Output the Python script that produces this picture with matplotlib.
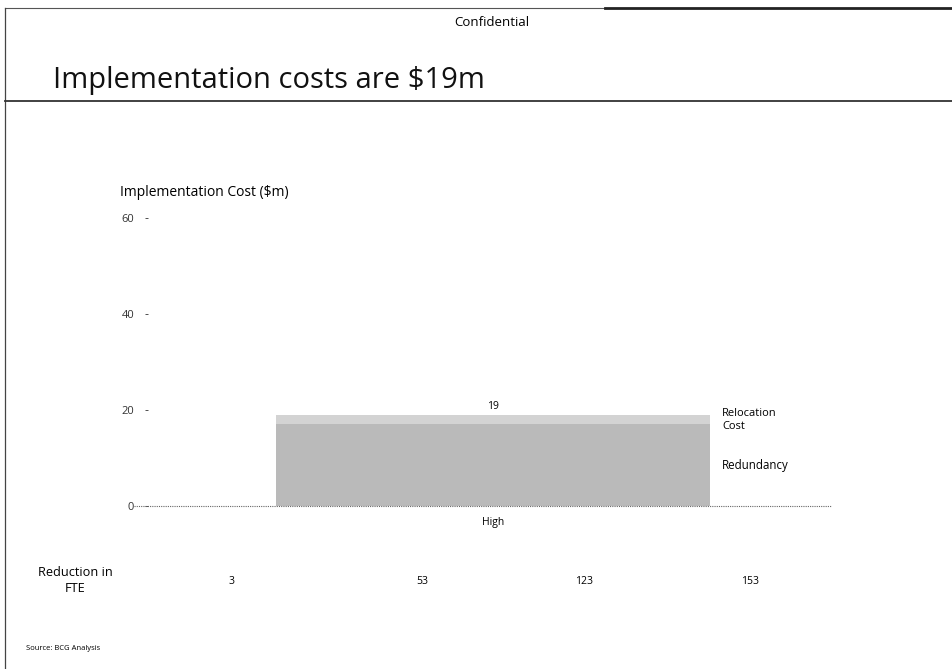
import matplotlib.pyplot as plt
from matplotlib.lines import Line2D

# ========================
# DATA
# ========================
categories = ["High"]
redundancy = [17]
relocation = [2]
total_labels = ["19"]
fte_values = ["3", "53", "123", "153"]
y_ticks = [0, 20, 40, 60]

W, H = 953, 669
FONT = "Open Sans"
plt.rcParams["font.family"] = [FONT, "DejaVu Sans"]


def fx(px):
    return px / W


def fy(py):
    return 1 - py / H


fig = plt.figure(figsize=(W / 100, H / 100), dpi=100)

# --- page frame ---
fig.add_artist(Line2D([fx(5), fx(605)], [fy(8), fy(8)], color="#555555", lw=0.8))
fig.add_artist(Line2D([fx(605), fx(953)], [fy(8), fy(8)], color="#222222", lw=2.0))
fig.add_artist(Line2D([fx(5), fx(5)], [fy(8), fy(669)], color="#444444", lw=0.9))
fig.add_artist(Line2D([fx(5), fx(953)], [fy(101), fy(101)], color="#333333", lw=1.3))

fig.text(fx(492), fy(22), "Confidential", ha="center", va="center", fontsize=9.5)
fig.text(fx(53), fy(88), "Implementation costs are $19m", ha="left", va="baseline",
         fontsize=21, color="#111111", weight="medium")

# --- chart ---
ax = fig.add_axes([fx(148), fy(506), fx(838) - fx(148), (506 - 218) / H])
x = list(range(len(categories)))
ax.bar(x, redundancy, width=0.63, color="#bababa", label="Redundancy")
ax.bar(x, relocation, width=0.63, bottom=redundancy, color="#d3d3d3", label="Relocation Cost")
for i, lab in enumerate(total_labels):
    ax.text(x[i], redundancy[i] + relocation[i] + 0.6, lab, ha="center", va="bottom", fontsize=7.5)

ax.set_xlim(-0.5, 0.5)
ax.set_ylim(0, 60)
ax.set_yticks(y_ticks)
ax.set_yticklabels([str(t) for t in y_ticks], fontsize=8)
ax.tick_params(axis="y", length=2, width=0.6, pad=8, colors="#333333")
ax.set_xticks(x)
ax.set_xticklabels(categories, fontsize=7.5)
ax.tick_params(axis="x", length=0, pad=8)
for s in ax.spines.values():
    s.set_visible(False)
ax.axhline(0, xmin=-0.02, xmax=0.99, color="#666666", lw=0.8, ls=(0, (1, 1)), clip_on=False)
ax.patch.set_alpha(0)

fig.text(fx(120), fy(193), "Implementation Cost ($m)", ha="left", va="center", fontsize=10)

# legend labels at right of bar
fig.text(fx(722), fy(420), "Relocation\nCost", ha="left", va="center", fontsize=8, linespacing=1.3)
fig.text(fx(722), fy(465), "Redundancy", ha="left", va="center", fontsize=8.3)

# --- FTE row ---
fig.text(fx(75), fy(580), "Reduction in\nFTE", ha="center", va="center", fontsize=9.2, linespacing=1.3)
fte_x = [232, 422, 584, 750]
for px, v in zip(fte_x, fte_values):
    fig.text(fx(px), fy(581), v, ha="center", va="center", fontsize=7.5)

fig.text(fx(26), fy(648), "Source: BCG Analysis", ha="left", va="center", fontsize=5.5)

fig.savefig("out.png", dpi=100)
